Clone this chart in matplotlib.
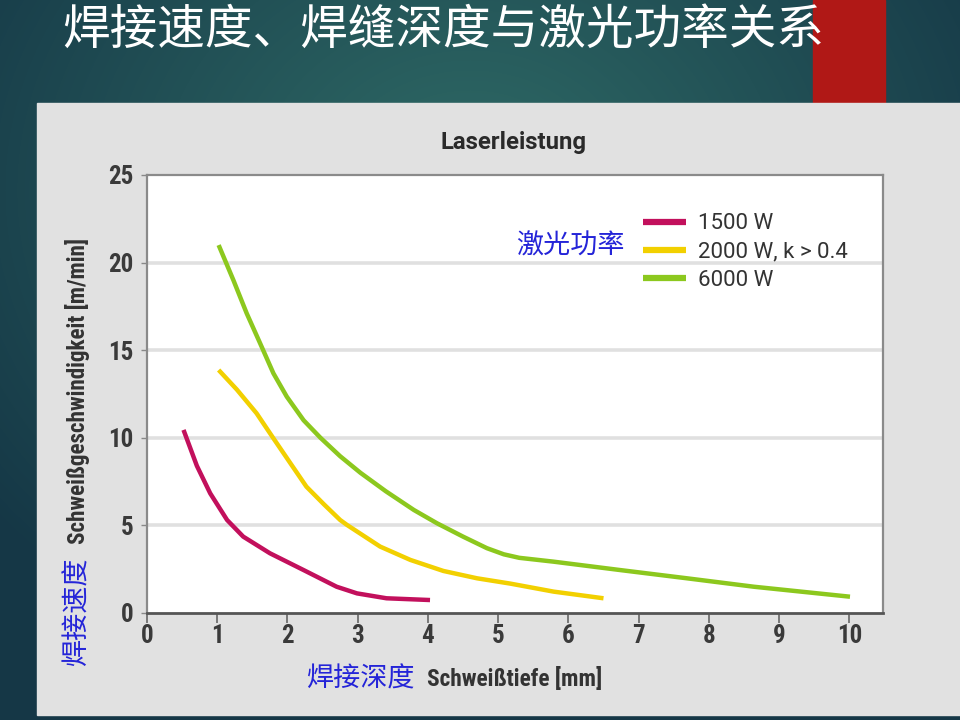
import numpy as np
import matplotlib
matplotlib.use("Agg")
import matplotlib.pyplot as plt
from matplotlib.patches import Rectangle

# ---- data ----
x_1500 = [0.52, 0.71, 0.90, 1.14, 1.37, 1.75, 2.23, 2.70, 2.99, 3.41, 4.03]
y_1500 = [10.45, 8.40, 6.83, 5.31, 4.36, 3.41, 2.45, 1.50, 1.12, 0.84, 0.74]

x_2000 = [1.02, 1.28, 1.56, 1.80, 2.05, 2.27, 2.52, 2.75, 2.85, 3.32, 3.75, 4.22, 4.70, 5.17, 5.79, 6.50]
y_2000 = [13.87, 12.75, 11.40, 9.97, 8.50, 7.21, 6.20, 5.31, 5.02, 3.79, 3.03, 2.40, 1.98, 1.68, 1.22, 0.84]

x_6000 = [1.02, 1.23, 1.42, 1.61, 1.80, 1.99, 2.23, 2.47, 2.75, 3.04, 3.40, 3.80, 4.13,
          4.50, 4.84, 5.08, 5.30, 5.79, 6.74, 7.69, 8.64, 10.01]
y_6000 = [21.0, 19.0, 17.1, 15.4, 13.68, 12.35, 11.0, 10.0, 8.95, 8.0, 6.95, 5.88, 5.12,
          4.36, 3.70, 3.35, 3.15, 2.93, 2.45, 1.98, 1.50, 0.93]

series_labels = ["1500 W", "2000 W, k > 0.4", "6000 W"]
series_colors = ["#c2105c", "#f2d000", "#8cc81e"]
x_ticks = list(range(0, 11))
y_ticks = [0, 5, 10, 15, 20, 25]

title_text = "焊接速度、焊缝深度与激光功率关系"
chart_title = "Laserleistung"
xlabel_de = "Schweißtiefe [mm]"
ylabel_de = "Schweißgeschwindigkeit [m/min]"
xlabel_cn = "焊接深度"
ylabel_cn = "焊接速度"
legend_cn = "激光功率"

CJK = ["Noto Sans CJK SC", "DejaVu Sans"]
NARROW = ["Roboto Condensed", "Roboto", "DejaVu Sans"]
NORMAL = ["Roboto", "DejaVu Sans"]

fig = plt.figure(figsize=(9.6, 7.2), dpi=100)

# background gradient
bg = fig.add_axes([0, 0, 1, 1], zorder=-10)
bg.set_axis_off()
yy, xx = np.mgrid[0:720, 0:960]
r = np.sqrt(((xx - 470) / 620.0) ** 2 + ((yy - 190) / 520.0) ** 2)
r = np.clip(r, 0, 1)
c0 = np.array([0x2f, 0x6b, 0x66]) / 255.0
c1 = np.array([0x15, 0x37, 0x46]) / 255.0
img = c0[None, None, :] * (1 - r[..., None]) + c1[None, None, :] * r[..., None]
bg.imshow(img, extent=[0, 960, 720, 0], aspect="auto")
bg.set_xlim(0, 960)
bg.set_ylim(720, 0)
bg.add_patch(Rectangle((813, 0), 72, 103, color="#b01816", zorder=2))
bg.add_patch(Rectangle((37, 103), 923, 612, color="#e1e1e1", zorder=3))

fig.text(62 / 960, 1 - 30 / 720, title_text, color="white", fontsize=34.3,
         family=CJK, weight="light", va="center", ha="left")

ax = fig.add_axes([147 / 960, 1 - 613 / 720, 736 / 960, 438 / 720], zorder=5)
ax.set_facecolor("white")
ax.set_xlim(0, 10.48)
ax.set_ylim(0, 25)

for yv in y_ticks[1:-1]:
    ax.axhline(yv, color="#e0e0e0", lw=2.6, zorder=1)

for xs, ys, col, lab in zip([x_1500, x_2000, x_6000], [y_1500, y_2000, y_6000],
                            series_colors, series_labels):
    ax.plot(xs, ys, color=col, lw=3.2, solid_capstyle="butt", solid_joinstyle="round",
            label=lab, zorder=3)

ax.set_xticks(x_ticks)
ax.set_yticks(y_ticks)
ax.tick_params(axis="x", direction="out", length=7, width=1.2, color="#666666",
               labelsize=18, labelcolor="#3a3a3a", pad=1)
ax.tick_params(axis="y", direction="out", length=4, width=1.0, color="#888888",
               labelsize=18, labelcolor="#3a3a3a", pad=6)
for lbl in ax.get_xticklabels() + ax.get_yticklabels():
    lbl.set_family(NARROW)
    lbl.set_weight("bold")
for s in ["top", "right", "left"]:
    ax.spines[s].set_color("#8a8a8a")
    ax.spines[s].set_linewidth(1.6)
ax.spines["bottom"].set_color("#555555")
ax.spines["bottom"].set_linewidth(2.0)

leg = ax.legend(loc="upper left", bbox_to_anchor=(0.647, 0.958), frameon=False,
                handlelength=1.94, handletextpad=0.54, labelspacing=0.33,
                prop={"family": NORMAL, "size": 16})
for t in leg.get_texts():
    t.set_color("#333333")
for h in leg.get_lines():
    h.set_linewidth(4.5)

fig.text(513 / 960, 1 - 142 / 720, chart_title, fontsize=17.2, weight="bold",
         family=NORMAL, color="#2a2a2a", ha="center", va="center")
fig.text(427 / 960, 1 - 679 / 720, xlabel_de, fontsize=16.8, weight="bold",
         family=NARROW, color="#333333", ha="left", va="center")
fig.text(78 / 960, 1 - 391 / 720, ylabel_de, fontsize=16.7, weight="bold",
         family=NARROW, color="#333333", ha="center", va="center", rotation=90)
fig.text(306 / 960, 1 - 679 / 720, xlabel_cn, fontsize=19.5, family=CJK,
         color="#2424d8", ha="left", va="center")
fig.text(77 / 960, 1 - 612 / 720, ylabel_cn, fontsize=19.5, family=CJK,
         color="#2424d8", ha="center", va="center", rotation=90)
fig.text(516 / 960, 1 - 246 / 720, legend_cn, fontsize=19.5, family=CJK,
         color="#2424d8", ha="left", va="center", zorder=10)

fig.savefig("out.png", dpi=100)
